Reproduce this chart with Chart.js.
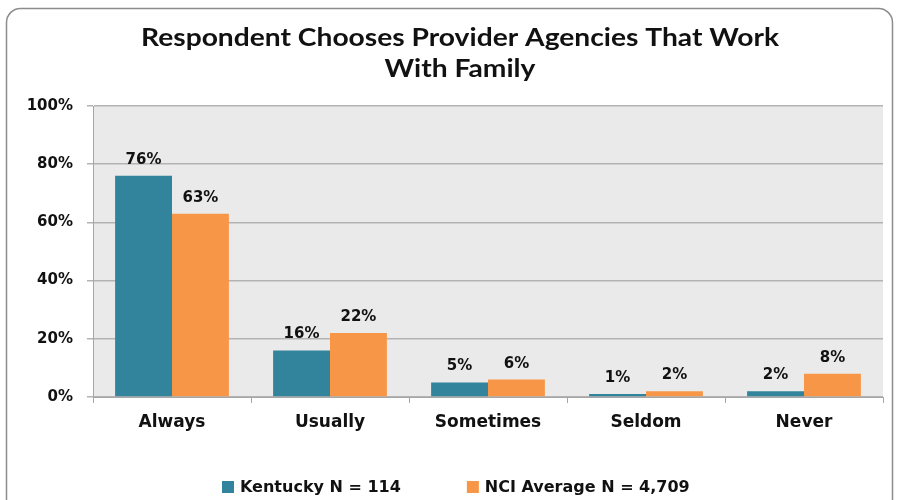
<!DOCTYPE html>
<html>
<head>
<meta charset="utf-8">
<script src="https://cdn.jsdelivr.net/npm/chart.js@4.4.0/dist/chart.umd.min.js"></script>
<style>
  html, body { margin: 0; padding: 0; background: #fff; }
  #wrap { width: 903px; height: 500px; position: relative; }
</style>
</head>
<body>
<div id="wrap"><canvas id="myChart"></canvas></div>
<script>
const categories = ["Always", "Usually", "Sometimes", "Seldom", "Never"];
const kentuckyValues = [76, 16, 5, 1, 2];
const nciValues = [63, 22, 6, 2, 8];
const seriesNames = ["Kentucky N = 114", "NCI Average N = 4,709"];
const titleLines = ["Respondent Chooses Provider Agencies That Work", "With Family"];
const yTicks = [0, 20, 40, 60, 80, 100];

const labelFont = "'DejaVu Sans', Verdana, sans-serif";

// grey plot background + rounded outer frame
const plotBackground = {
  id: "plotBackground",
  beforeDraw(chart) {
    const { ctx, chartArea: { left, top, width, height } } = chart;
    ctx.save();
    ctx.strokeStyle = "#8c8c8c";
    ctx.lineWidth = 1.5;
    ctx.beginPath();
    ctx.roundRect(6.5, 8.5, 886, 520, 14);
    ctx.stroke();
    ctx.fillStyle = "#eaeaea";
    ctx.fillRect(left, top, width, height);
    ctx.restore();
  },
};

// title: the original is a wide bold face, so stretch Lato a bit sideways
const wideTitle = {
  id: "wideTitle",
  afterDraw(chart) {
    const { ctx } = chart;
    ctx.save();
    ctx.font = "bold 24px Lato, 'Open Sans', sans-serif";
    ctx.fillStyle = "#111";
    ctx.textAlign = "center";
    ctx.textBaseline = "alphabetic";
    const sx = 638 / ctx.measureText(titleLines[0]).width;
    const cx = 460;
    titleLines.forEach((line, i) => {
      ctx.save();
      ctx.translate(cx, 46 + i * 31);
      ctx.scale(sx, 1);
      ctx.fillText(line, 0, 0);
      ctx.restore();
    });
    ctx.restore();
  },
};

// value labels above each bar
const valueLabels = {
  id: "valueLabels",
  afterDatasetsDraw(chart) {
    const { ctx } = chart;
    ctx.save();
    ctx.font = "bold 15px " + labelFont;
    ctx.fillStyle = "#111";
    ctx.textAlign = "center";
    ctx.textBaseline = "alphabetic";
    chart.data.datasets.forEach((ds, i) => {
      chart.getDatasetMeta(i).data.forEach((bar, j) => {
        ctx.fillText(ds.data[j] + "%", bar.x, bar.y - 12);
      });
    });
    ctx.restore();
  },
};

// legend drawn by hand so item spacing can be wide without extra height
const bottomLegend = {
  id: "bottomLegend",
  afterDraw(chart) {
    const { ctx } = chart;
    const box = 12, gapBox = 6, gapItem = 66;
    ctx.save();
    ctx.font = "bold 16px " + labelFont;
    let x = 222;
    const y = 487;
    chart.data.datasets.forEach((ds, i) => {
      ctx.fillStyle = ds.backgroundColor;
      ctx.fillRect(x, y - box / 2, box, box);
      ctx.fillStyle = "#111";
      ctx.textBaseline = "middle";
      ctx.textAlign = "left";
      ctx.fillText(seriesNames[i], x + box + gapBox, y + 1);
      x += box + gapBox + ctx.measureText(seriesNames[i]).width + gapItem;
    });
    ctx.restore();
  },
};

new Chart(document.getElementById("myChart"), {
  type: "bar",
  data: {
    labels: categories,
    datasets: [
      {
        label: seriesNames[0],
        data: kentuckyValues,
        backgroundColor: "#31849b",
        categoryPercentage: 0.72,
        barPercentage: 1.0,
      },
      {
        label: seriesNames[1],
        data: nciValues,
        backgroundColor: "#f79646",
        categoryPercentage: 0.72,
        barPercentage: 1.0,
      },
    ],
  },
  options: {
    responsive: true,
    maintainAspectRatio: false,
    animation: false,
    layout: { padding: { left: 0, right: 20, top: 106, bottom: 45 } },
    scales: {
      x: {
        grid: {
          drawOnChartArea: false,
          drawTicks: true,
          tickLength: 6,
          color: "#a6a6a6",
        },
        border: { color: "#a6a6a6" },
        ticks: {
          color: "#111",
          font: { family: labelFont, size: 17, weight: "bold" },
          padding: 9,
        },
        afterFit(scale) { scale.height = 58; },
      },
      y: {
        min: 0,
        max: 100,
        afterBuildTicks(scale) { scale.ticks = yTicks.map((v) => ({ value: v })); },
        grid: { color: "#b3b3b3", tickLength: 6, lineWidth: 1.5 },
        border: { color: "#a6a6a6" },
        ticks: {
          color: "#111",
          font: { family: labelFont, size: 15, weight: "bold" },
          padding: 14,
          callback: (v) => v + "%",
        },
        afterFit(scale) { scale.width = 93; },
      },
    },
    plugins: {
      title: { display: false },
      legend: { display: false },
      tooltip: { enabled: false },
    },
  },
  plugins: [plotBackground, wideTitle, valueLabels, bottomLegend],
});
</script>
</body>
</html>
